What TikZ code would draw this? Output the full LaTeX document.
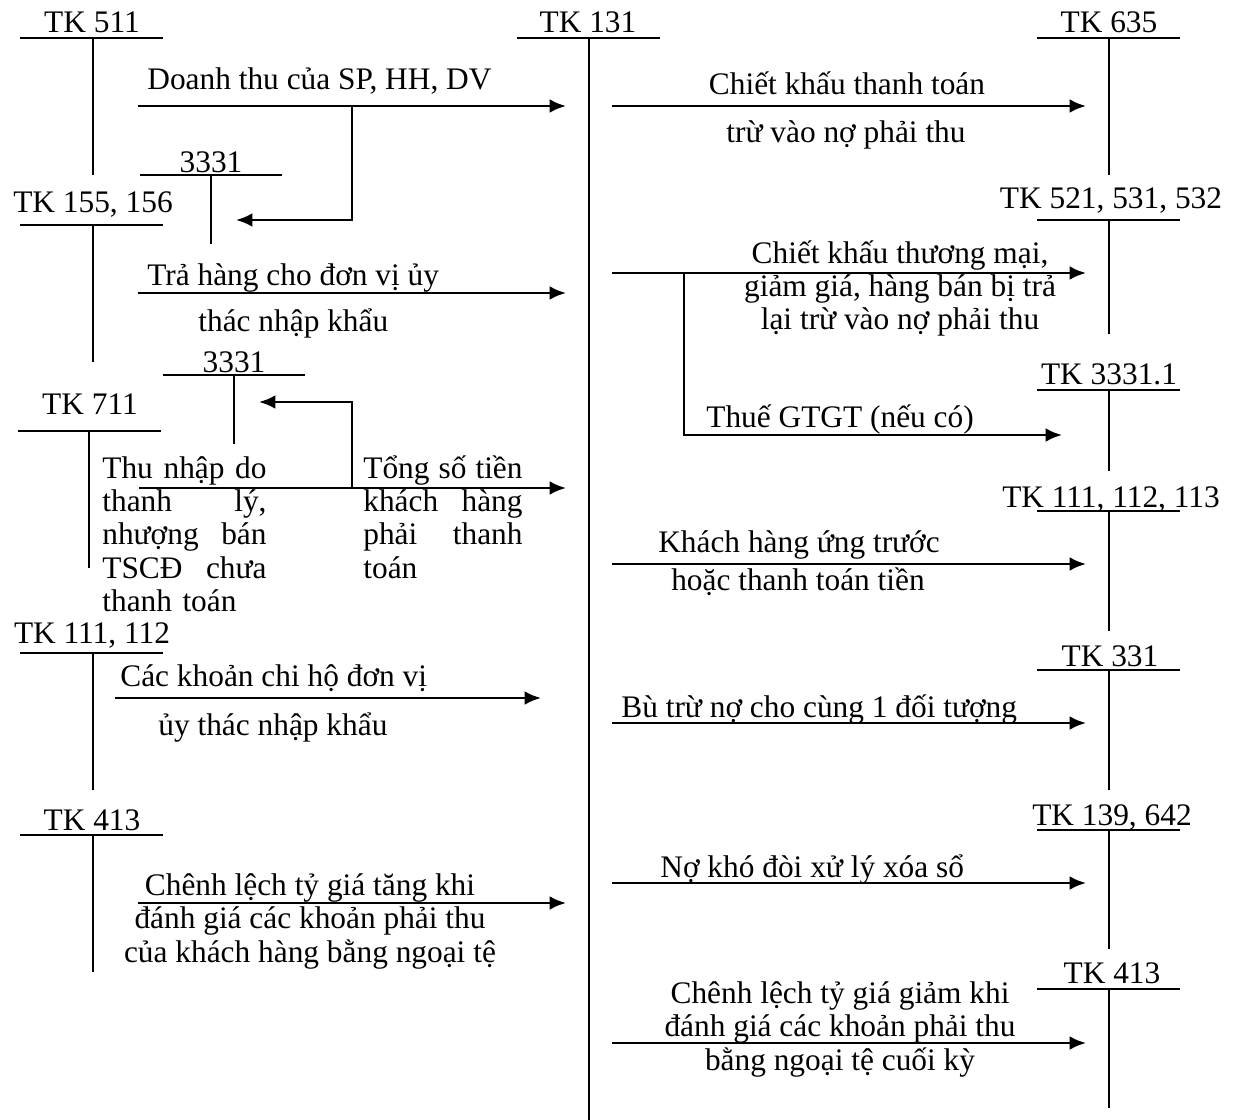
\documentclass[tikz,border=0pt]{standalone}
\usepackage{fontspec}
\setmainfont{Liberation Serif}
\usetikzlibrary{arrows.meta,positioning}

\begin{document}
\begin{tikzpicture}[x=0.014cm,y=-0.014cm,line width=1.1pt,>={Latex[length=6.5pt,width=5.5pt]},
  font=\fontsize{12.5}{13.3}\selectfont,
  acct/.style={anchor=base,inner sep=0pt},
  lbl/.style={anchor=base west,inner sep=0pt},
  mlbl/.style={anchor=base,inner sep=0pt,align=center},
  jlbl/.style={anchor=base west,inner sep=0pt,align=left}]
\useasboundingbox[fill=white] (0,0) rectangle (1240,1120);

% T-accounts, left column
\node[acct] (tk511) at (92,33) {TK 511};
\draw (20,38) -- (163,38) (93,38) -- (93,175);
\node[acct] (tk3331a) at (211,173) {3331};
\draw (140,175) -- (282,175) (211,175) -- (211,244);
\node[acct] (tk155) at (93,213) {TK 155, 156};
\draw (20,225) -- (163,225) (93,225) -- (93,362);
\node[acct] (tk3331b) at (234,373) {3331};
\draw (163,375) -- (305,375) (234,375) -- (234,444);
\node[acct] (tk711) at (90,415) {TK 711};
\draw (18,431) -- (161,431) (89,431) -- (89,568);
\node[acct] (tk111) at (92,643) {TK 111, 112};
\draw (20,653) -- (163,653) (93,653) -- (93,790);
\node[acct] (tk413a) at (92,830) {TK 413};
\draw (20,835) -- (163,835) (93,835) -- (93,972);

% TK 131
\node[acct] (tk131) at (588,33) {TK 131};
\draw (517,38) -- (660,38) (589,38) -- (589,1120);

% T-accounts, right column
\node[acct] (tk635) at (1109,33) {TK 635};
\draw (1037,38) -- (1180,38) (1109,38) -- (1109,175);
\node[acct] (tk521) at (1111,209) {TK 521, 531, 532};
\draw (1037,220) -- (1180,220) (1109,220) -- (1109,334);
\node[acct] (tk33311) at (1109,385) {TK 3331.1};
\draw (1037,390) -- (1180,390) (1109,390) -- (1109,471);
\node[acct] (tk1113) at (1111,507) {TK 111, 112, 113};
\draw (1037,511) -- (1180,511) (1109,511) -- (1109,631);
\node[acct] (tk331) at (1110,666) {TK 331};
\draw (1037,670) -- (1180,670) (1109,670) -- (1109,790);
\node[acct] (tk139) at (1112,825) {TK 139, 642};
\draw (1037,830) -- (1180,830) (1109,830) -- (1109,949);
\node[acct] (tk413b) at (1112,983) {TK 413};
\draw (1037,989) -- (1180,989) (1109,989) -- (1109,1108);

% ends of the entries
\coordinate (dt-s) at (138,106);   \coordinate (dt-e) at (566,106);
\coordinate (dt-v) at (352,106);   \coordinate (dt-t) at (236,220);
\coordinate (th-s) at (138,293);   \coordinate (th-e) at (566,293);
\coordinate (tn-s) at (139,488);   \coordinate (tn-e) at (566,488);
\coordinate (tn-v) at (352,488);   \coordinate (tn-t) at (259,402);
\coordinate (ck-s) at (115,698);   \coordinate (ck-e) at (541,698);
\coordinate (cl-s) at (138,903);   \coordinate (cl-e) at (566,903);
\coordinate (tt-s) at (612,106);   \coordinate (tt-e) at (1086,106);
\coordinate (tm-s) at (612,273);   \coordinate (tm-e) at (1086,273);
\coordinate (tm-v) at (684,273);   \coordinate (tm-t) at (1062,435);
\coordinate (kh-s) at (612,564);   \coordinate (kh-e) at (1086,564);
\coordinate (bt-s) at (612,723);   \coordinate (bt-e) at (1086,723);
\coordinate (nk-s) at (612,883);   \coordinate (nk-e) at (1086,883);
\coordinate (cg-s) at (612,1043);  \coordinate (cg-e) at (1086,1043);

\draw[->] (dt-s) -- (dt-e);
\draw[->] (dt-v) |- (dt-t);
\draw[->] (th-s) -- (th-e);
\draw[->] (tn-s) -- (tn-e);
\draw[->] (tn-v) |- (tn-t);
\draw[->] (ck-s) -- (ck-e);
\draw[->] (cl-s) -- (cl-e);
\draw[->] (tt-s) -- (tt-e);
\draw[->] (tm-s) -- (tm-e);
\draw[->] (tm-v) |- (tm-t);
\draw[->] (kh-s) -- (kh-e);
\draw[->] (bt-s) -- (bt-e);
\draw[->] (nk-s) -- (nk-e);
\draw[->] (cg-s) -- (cg-e);

% labels on the entries
\node[lbl] (ldt) at (146,90) {Doanh thu của SP, HH, DV};
\node[lbl] (lth1) at (146,286) {Trả hàng cho đơn vị ủy};
\node[lbl] (lth2) at (197,332) {thác nhập khẩu};
\node[jlbl,text width=2.3cm] (ltn) at (101,478)
  {Thu\hfill nhập\hfill do\\ thanh\hfill lý,\\ nhượng\hfill bán\\ TSCĐ\hfill chưa\\ thanh toán};
\node[jlbl,text width=2.23cm] (lts) at (362,478)
  {Tổng\hfill số\hfill tiền\\ khách\hfill hàng\\ phải\hfill thanh\\ toán};
\node[lbl] (lck1) at (119,686) {Các khoản chi hộ đơn vị};
\node[lbl] (lck2) at (157,735) {ủy thác nhập khẩu};
\node[mlbl] (lcl) at (310,962)
  {Chênh lệch tỷ giá tăng khi\\ đánh giá các khoản phải thu\\ của khách hàng bằng ngoại tệ};
\node[mlbl] (ltt1) at (847,95) {Chiết khấu thanh toán};
\node[mlbl] (ltt2) at (846,143) {trừ vào nợ phải thu};
\node[mlbl] (ltm) at (900,330)
  {Chiết khấu thương mại,\\ giảm giá, hàng bán bị trả\\ lại trừ vào nợ phải thu};
\node[lbl] (lthue) at (705,428) {Thuế GTGT (nếu có)};
\node[mlbl] (lkh1) at (799,553) {Khách hàng ứng trước};
\node[mlbl] (lkh2) at (798,590) {hoặc thanh toán tiền};
\node[lbl] (lbt) at (620,717) {Bù trừ nợ cho cùng 1 đối tượng};
\node[lbl] (lnk) at (659,877) {Nợ khó đòi xử lý xóa sổ};
\node[mlbl] (lcg) at (840,1070)
  {Chênh lệch tỷ giá giảm khi\\ đánh giá các khoản phải thu\\ bằng ngoại tệ cuối kỳ};
\end{tikzpicture}
\end{document}
